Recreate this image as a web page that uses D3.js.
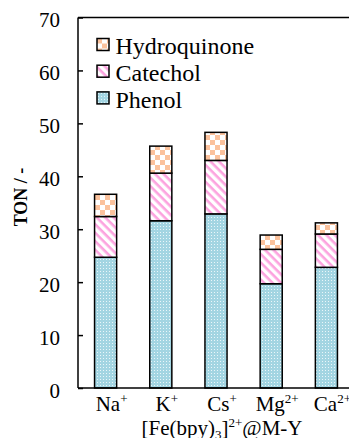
<!DOCTYPE html>
<html><head><meta charset="utf-8">
<script src="https://cdn.jsdelivr.net/npm/d3@7"></script>
<style>
@font-face { font-family: "ChartSerif"; src: local("Liberation Serif"), local("LiberationSerif"), local("LiberationSerif-Regular"); font-weight: 400; }
@font-face { font-family: "ChartSerif"; src: local("Liberation Serif Bold"), local("LiberationSerif-Bold"); font-weight: 700; }
</style>
</head>
<body style="margin:0;padding:0;background:#fff;"><svg id="c" width="349" height="438" style="display:block;font-family:'Liberation Serif',ChartSerif,serif"></svg>
<script>
const cations = ["Na", "K", "Cs", "Mg", "Ca"];
const charges = ["+", "+", "+", "2+", "2+"];
const phenol = [24.7, 31.6, 32.9, 19.7, 22.8];
const catechol = [7.7, 9.0, 10.1, 6.5, 6.3];
const hydroquinone = [4.2, 5.1, 5.3, 2.7, 2.1];
const seriesNames = ["Phenol", "Catechol", "Hydroquinone"];
const yTicks = [0, 10, 20, 30, 40, 50, 60, 70];

const svg = d3.select("#c");
const L = 78, R = 354, T = 17.5, B = 388;
const x = d3.scaleBand().domain(cations).range([L, R]).paddingInner(0.6).paddingOuter(0.3);
const y = d3.scaleLinear().domain([0, 70]).range([B, T]);

function serif(sel) { return sel.style("font-family", "'Liberation Serif', ChartSerif, serif"); }

// patterns
const defs = svg.append("defs");
const pP = defs.append("pattern").attr("id", "pPhenol").attr("patternUnits", "userSpaceOnUse").attr("width", 3).attr("height", 3);
pP.append("rect").attr("width", 3).attr("height", 3).attr("fill", "#a3d5e2");
pP.append("rect").attr("x", 1).attr("y", 1).attr("width", 1).attr("height", 1).attr("fill", "#eaf6f9");
const pC = defs.append("pattern").attr("id", "pCatechol").attr("patternUnits", "userSpaceOnUse").attr("width", 6).attr("height", 6).attr("patternTransform", "rotate(45)");
pC.append("rect").attr("width", 6).attr("height", 6).attr("fill", "#fff");
pC.append("rect").attr("width", 6).attr("height", 2.6).attr("fill", "#fca3df");
const pH = defs.append("pattern").attr("id", "pHydro").attr("patternUnits", "userSpaceOnUse").attr("width", 10).attr("height", 10);
pH.append("rect").attr("width", 10).attr("height", 10).attr("fill", "#fff");
pH.append("rect").attr("width", 5).attr("height", 5).attr("fill", "#fbc29d");
pH.append("rect").attr("x", 5).attr("y", 5).attr("width", 5).attr("height", 5).attr("fill", "#fbc29d");
const fills = {Phenol: "url(#pPhenol)", Catechol: "url(#pCatechol)", Hydroquinone: "url(#pHydro)"};

const table = cations.map((c, i) => ({cat: c, Phenol: phenol[i], Catechol: catechol[i], Hydroquinone: hydroquinone[i]}));
const stack = d3.stack().keys(seriesNames)(table);

svg.append("line").attr("x1", L).attr("x2", R).attr("y1", T).attr("y2", T).attr("stroke", "#000").attr("stroke-width", 1.5);

svg.append("g").selectAll("g").data(stack).join("g")
  .attr("fill", d => fills[d.key])
  .selectAll("rect").data(d => d).join("rect")
  .attr("x", d => x(d.data.cat))
  .attr("width", x.bandwidth())
  .attr("y", d => y(d[1]))
  .attr("height", d => y(d[0]) - y(d[1]))
  .attr("stroke", "#000").attr("stroke-width", 1.5);

// y axis
const ya = svg.append("g").attr("transform", `translate(${L},0)`)
  .call(d3.axisLeft(y).tickValues(yTicks).tickSize(-5).tickPadding(18));
ya.attr("font-family", null);
serif(ya);
ya.select(".domain").attr("stroke-width", 1.5).attr("d", `M0,${B}V${T}`);
ya.selectAll(".tick line").attr("stroke-width", 1.5);
serif(ya.selectAll(".tick text").attr("font-size", 21).attr("dy", "0.45em"));

svg.append("line").attr("x1", L).attr("x2", R).attr("y1", B).attr("y2", B).attr("stroke", "#000").attr("stroke-width", 1.5);

// x labels
const xl = svg.append("g").selectAll("text").data(cations).join("text")
  .attr("x", d => x(d) + x.bandwidth() / 2 + 6)
  .attr("y", 410.5).attr("text-anchor", "middle").attr("font-size", 21);
serif(xl);
xl.append("tspan").text(d => d);
xl.append("tspan").attr("font-size", 13).attr("dy", -8).text((d, i) => charges[i]);

// x title
const xt = svg.append("text").attr("x", (L + R) / 2 + 6).attr("y", 434.5).attr("text-anchor", "middle").attr("font-size", 21);
serif(xt);
xt.append("tspan").text("[Fe(bpy)");
xt.append("tspan").attr("font-size", 13).attr("dy", 4).text("3");
xt.append("tspan").attr("dy", -4).text("]");
xt.append("tspan").attr("font-size", 13).attr("dy", -8).text("2+");
xt.append("tspan").attr("dy", 8).text("@M-Y");

// y title
serif(svg.append("text").attr("transform", "translate(27,197) rotate(-90)").attr("text-anchor", "middle")
  .attr("font-size", 18).attr("font-weight", "bold")).text("TON / -");

// legend
const legOrder = ["Hydroquinone", "Catechol", "Phenol"];
const lg = svg.append("g").selectAll("g").data(legOrder).join("g")
  .attr("transform", (d, i) => `translate(97,${38.5 + i * 26.7})`);
lg.append("rect").attr("width", 12).attr("height", 12).attr("fill", d => fills[d]).attr("stroke", "#000").attr("stroke-width", 1.5);
serif(lg.append("text").attr("x", 18.5).attr("y", 15.8).attr("font-size", 24)).text(d => d);
</script></body></html>
